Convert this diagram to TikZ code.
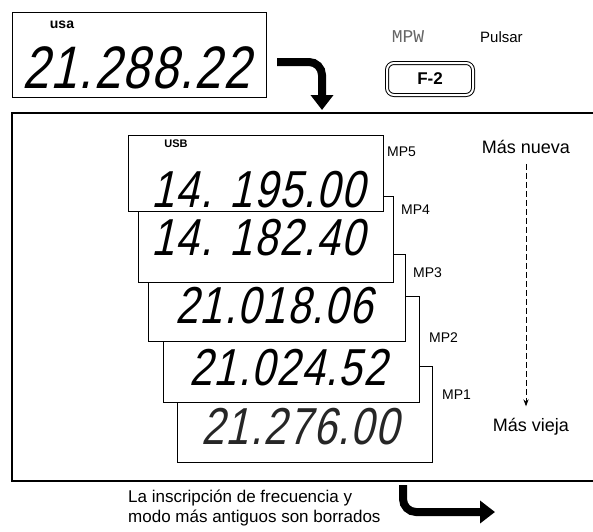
\documentclass[tikz,border=0pt]{standalone}
\usepackage{fontspec}
\setmainfont{Liberation Sans}
\newfontfamily\lcdfont[FakeSlant=0.22,FakeStretch=0.8,LetterSpace=3]{Liberation Sans}
\newfontfamily\dotfont{Liberation Mono}
\usetikzlibrary{arrows.meta}

\begin{document}
\begin{tikzpicture}[x=1pt,y=-1pt,
      lcd/.style={draw,line width=0.8pt,fill=white,inner sep=0pt},
      digits/.style={font=\lcdfont\fontsize{52}{52}\selectfont,inner sep=0pt},
      mode/.style={font=\fontsize{11}{12}\selectfont\bfseries,inner sep=0pt},
      tag/.style={font=\fontsize{14}{16}\selectfont,anchor=west,inner sep=0pt},
      side/.style={font=\fontsize{18}{20}\selectfont,inner sep=0pt},
      key/.style={draw,line width=1pt,double,double distance=2pt,
                  rounded corners=7pt,minimum width=86pt,minimum height=32pt,
                  font=\fontsize{17}{18}\selectfont\bfseries},
      big/.style={line width=8pt,rounded corners=13pt,
                  -{Triangle[length=15pt,width=22pt]}}]
    \useasboundingbox (0,0) rectangle (593,531);

    % frame of the memory list
    \draw[line width=1.2pt] (593,113) -- (12,113) -- (12,481) -- (593,481);

    % display before the key
    \node[lcd,minimum width=254pt,minimum height=85pt] (now) at (139,55) {};
    \node[mode,font=\fontsize{14}{14}\selectfont\bfseries] (nowmode) at (62,25) {usa};
    \node[digits,font=\lcdfont\fontsize{60}{60}\selectfont] (nowfreq) at (136,68) {21.288.22};

    \coordinate (a1) at (277,62);
    \coordinate (a2) at (322,110);
    \draw[big] (a1) -| (a2);

    \node[font=\dotfont\fontsize{18}{18}\selectfont,text=black!60,inner sep=0pt] (mpw) at (408,37) {MPW};
    \node[anchor=west,font=\fontsize{15}{16}\selectfont,inner sep=0pt] (pulsar) at (480,37) {Pulsar};
    \node[key] (f2) at (430,79) {F-2};

    % memory stack, oldest first
    \node[lcd,minimum width=255pt,minimum height=96pt] (mp1) at (304.5,414) {};
    \node[digits,text=black!85] (f1) at (300,427) {21.276.00};
    \node[lcd,minimum width=256pt,minimum height=106pt] (mp2) at (291,349) {};
    \node[digits] (f2d) at (288,368) {21.024.52};
    \node[lcd,minimum width=257pt,minimum height=87pt] (mp3) at (276.5,297.5) {};
    \node[digits] (f3) at (274,306) {21.018.06};
    \node[lcd,minimum width=255pt,minimum height=86pt] (mp4) at (265.5,239) {};
    \node[digits] (f4) at (258,238) {14. 182.40};
    \node[lcd,minimum width=255pt,minimum height=76pt] (mp5) at (255.5,173) {};
    \node[mode] (m5) at (176,144) {USB};
    \node[digits] (f5) at (258,190) {14. 195.00};

    \node[tag] (l5) at (387,152) {MP5};
    \node[tag] (l4) at (401,210) {MP4};
    \node[tag] (l3) at (413,273) {MP3};
    \node[tag] (l2) at (429,338) {MP2};
    \node[tag] (l1) at (442,395) {MP1};

    \node[side] (new) at (526,147) {Más nueva};
    \node[side] (old) at (531,427) {Más vieja};
    \draw[line width=1pt,dash pattern=on 6pt off 3pt,-{Stealth[length=7pt]}] ([yshift=-10pt]new.south) -- ([yshift=12pt]new.south |- old.north);

    % note at the bottom
    \node[font=\fontsize{17}{20}\selectfont,align=left,anchor=north west,inner sep=0pt] (note) at (128,490)
      {La inscripción de frecuencia y\\modo más antiguos son borrados};
    \coordinate (b1) at (403,485);
    \coordinate (b2) at (495,512);
    \draw[big] (b1) |- (b2);
  \end{tikzpicture}
\end{document}
